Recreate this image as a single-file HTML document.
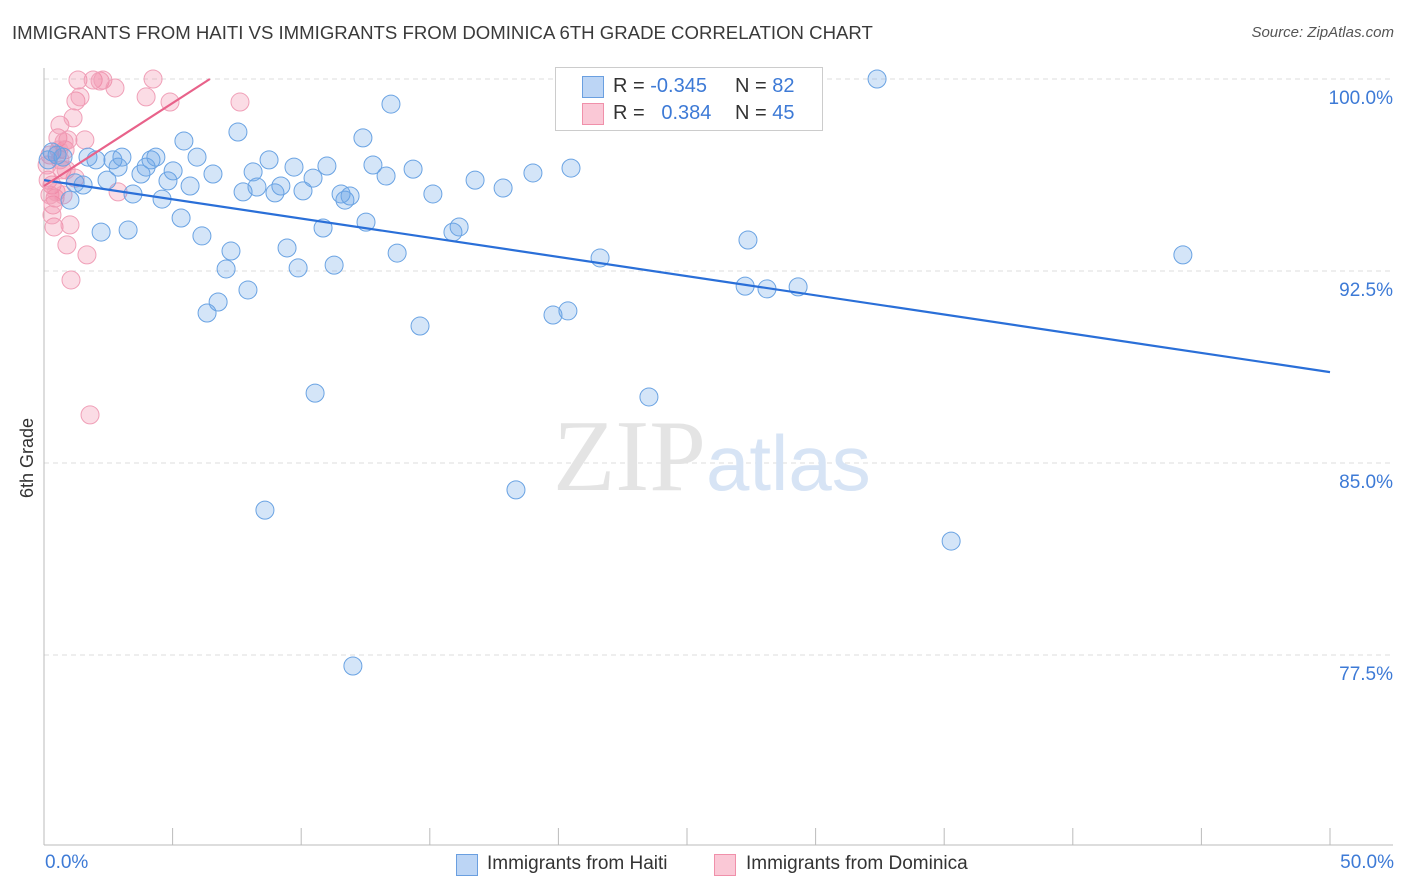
<!DOCTYPE html>
<html><head><meta charset="utf-8"><style>
body{margin:0;background:#fff;font-family:"Liberation Sans",sans-serif;}
#wrap{position:relative;width:1406px;height:892px;overflow:hidden;}
.t{position:absolute;white-space:nowrap;}
</style></head><body>
<div id="wrap">
<div class="t" style="left:12px;top:22px;font-size:18.6px;color:#3a3a3a;">IMMIGRANTS FROM HAITI VS IMMIGRANTS FROM DOMINICA 6TH GRADE CORRELATION CHART</div>
<div class="t" style="right:12px;top:24px;font-size:15px;color:#555;font-style:italic;">Source: ZipAtlas.com</div>
<div class="t" style="left:17px;top:498px;font-size:18px;color:#333;transform:rotate(-90deg);transform-origin:left top;">6th Grade</div>
<svg id="svg" width="1406" height="892" style="position:absolute;left:0;top:0"></svg>
<div class="t" style="left:555px;top:67px;width:266px;height:62px;border:1px solid #ccc;background:#fff;font-size:20px;">
 <div style="position:absolute;left:26px;top:8px;width:20px;height:20px;background:#bcd5f5;border:1px solid #6a9fe0;"></div>
 <div class="t" style="left:57px;top:7px;color:#333;">R = <span style="color:#3d7ad6">-0.345</span></div>
 <div class="t" style="left:179px;top:7px;color:#333;">N = <span style="color:#3d7ad6">82</span></div>
 <div style="position:absolute;left:26px;top:35px;width:20px;height:20px;background:#fac8d6;border:1px solid #f090aa;"></div>
 <div class="t" style="left:57px;top:34px;color:#333;">R = &nbsp;&nbsp;<span style="color:#3d7ad6">0.384</span></div>
 <div class="t" style="left:179px;top:34px;color:#333;">N = <span style="color:#3d7ad6">45</span></div>
</div>
<div style="position:absolute;left:456px;top:854px;width:20px;height:20px;background:#bcd5f5;border:1px solid #6a9fe0;"></div>
<div class="t" style="left:487px;top:853px;font-size:19px;color:#333;">Immigrants from Haiti</div>
<div style="position:absolute;left:714px;top:854px;width:20px;height:20px;background:#fac8d6;border:1px solid #f090aa;"></div>
<div class="t" style="left:746px;top:853px;font-size:19px;color:#333;">Immigrants from Dominica</div>
<div class="t" style="left:45px;top:852px;font-size:19px;color:#3d7ad6;">0.0%</div>
<div class="t" style="right:12px;top:852px;font-size:19px;color:#3d7ad6;">50.0%</div>
<div class="t" style="left:553px;top:398px;font-size:102px;color:#e4e4e4;font-family:'Liberation Serif',serif;">ZIP<span style="font-family:'Liberation Sans',sans-serif;font-size:78px;color:#d7e4f5;">atlas</span></div>
</div>
<script>
const yTicks=[100,92.5,85,77.5];
const yTickLabels=["100.0%","92.5%","85.0%","77.5%"];
const haitiX=[0.31,0.51,0.74,1.01,1.52,1.71,2.02,2.22,2.45,2.68,2.88,3.03,3.27,3.46,3.77,3.97,4.16,4.35,4.59,4.82,5.02,5.33,5.44,5.68,5.95,6.14,6.34,6.57,6.77,7.08,7.27,7.54,7.74,7.93,8.13,8.28,8.59,8.75,8.98,9.21,9.45,9.72,9.88,10.07,10.46,10.54,10.85,11.00,11.28,11.55,11.70,11.90,12.01,12.40,12.52,12.79,13.30,13.49,13.73,14.35,14.62,15.12,15.90,16.14,16.76,17.85,18.35,19.01,19.79,20.37,20.49,21.62,23.52,27.26,27.37,28.11,29.32,32.39,35.27,44.28,0.16,1.21];
const haitiY=[97.15,97.03,96.95,95.27,95.86,96.95,96.84,94.02,96.05,96.84,96.56,96.95,94.10,95.51,96.29,96.56,96.84,96.95,95.31,96.02,96.41,94.57,97.58,95.82,96.95,93.87,90.86,96.29,91.29,92.58,93.28,97.93,95.59,91.76,96.37,95.78,83.16,96.84,95.55,95.82,93.40,96.56,92.62,95.63,96.13,87.73,94.18,96.60,92.73,95.51,95.27,95.43,77.07,97.70,94.41,96.64,96.21,99.02,93.20,96.48,90.35,95.51,94.02,94.22,96.05,95.74,83.95,96.33,90.78,90.94,96.52,93.01,87.58,91.91,93.71,91.80,91.88,100.0,81.95,93.13,96.84,95.94];
const domX=[0.23,0.31,0.35,0.39,0.43,0.54,0.62,0.70,0.82,0.89,1.01,0.93,1.05,1.13,1.21,1.24,1.32,1.40,1.59,1.67,1.79,1.91,2.18,2.29,2.76,2.88,3.97,4.24,4.90,7.62,0.16,0.23,0.12,0.47,0.62,0.78,0.86,0.58,0.74,0.31];
const domY=[97.03,95.86,95.08,94.22,95.35,97.70,98.20,96.45,97.23,93.52,94.30,97.62,92.15,98.48,96.13,99.14,99.96,99.30,97.62,93.13,86.88,99.96,99.92,99.96,99.65,95.59,99.30,100.0,99.10,99.10,96.05,95.47,96.64,95.59,96.84,97.54,96.45,97.23,95.47,94.69];
const haitiTrend=[[0,96.05],[50,88.55]];
const domTrend=[[0,95.82],[6.45,100]];
const X0=44,X1=1330,Y100=79,PX_PER=25.6;
const sx=v=>X0+(v/50)*(X1-X0);
const sy=v=>Y100+(100-v)*PX_PER;
const svg=document.getElementById('svg');const NS='http://www.w3.org/2000/svg';
function mk(t,a){const e=document.createElementNS(NS,t);for(const k in a)e.setAttribute(k,a[k]);svg.appendChild(e);return e;}
yTicks.forEach((v,i)=>{
 const g=mk('line',{x1:X0,x2:1393,y1:sy(v),y2:sy(v),stroke:'#ddd','stroke-dasharray':'5,4'});
 
 
 const t=mk('text',{x:1393,y:sy(v)+25,'text-anchor':'end','font-size':19,fill:'#3d7ad6','font-family':'Liberation Sans'});
 t.textContent=yTickLabels[i];
 
 
});
const ax=mk('line',{x1:X0,x2:X0,y1:68,y2:845,stroke:'#bbb'});


const bx=mk('line',{x1:X0,x2:1393,y1:845,y2:845,stroke:'#bbb'});


for(let i=0;i<=10;i++){const tk=mk('line',{x1:sx(i*5),x2:sx(i*5),y1:828,y2:845,stroke:'#bbb'});
 
 }
function dots(xs,ys,fill,stroke,name){xs.forEach((x,i)=>{const c=mk('circle',{cx:sx(x),cy:sy(ys[i]),r:9,fill:fill,stroke:stroke,'stroke-width':1});
 
 });}
dots(domX,domY,'rgba(240,130,160,0.28)','#f0a0b8','dominica-point');
dots(haitiX,haitiY,'rgba(100,160,230,0.28)','#6aa3e3','haiti-point');
const l1=mk('line',{x1:sx(haitiTrend[0][0]),y1:sy(haitiTrend[0][1]),x2:sx(haitiTrend[1][0]),y2:sy(haitiTrend[1][1]),stroke:'#2a6fd8','stroke-width':2.2});


const l2=mk('line',{x1:sx(domTrend[0][0]),y1:sy(domTrend[0][1]),x2:sx(domTrend[1][0]),y2:sy(domTrend[1][1]),stroke:'#e8628a','stroke-width':2.2});


</script>
</body></html>
